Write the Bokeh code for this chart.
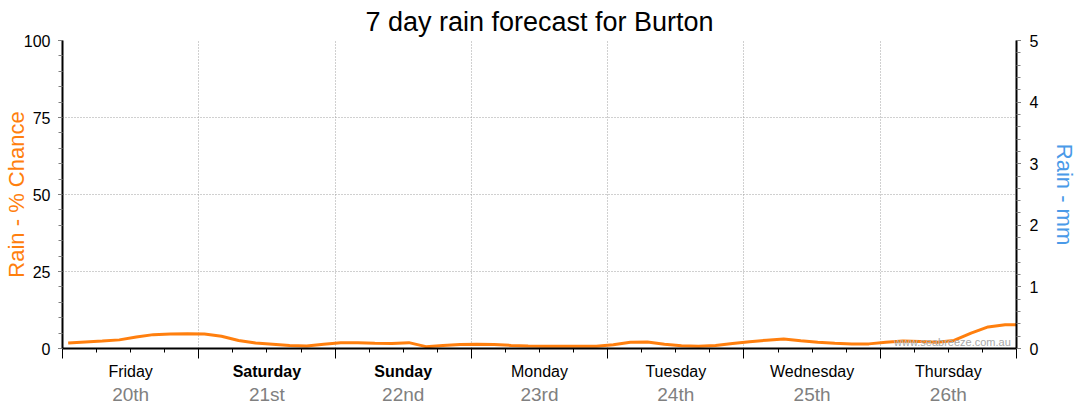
from bokeh.plotting import figure
from bokeh.layouts import column
from bokeh.models import Range1d, LinearAxis, FixedTicker, ColumnDataSource, Label
from bokeh.core.properties import value
from bokeh.embed import file_html
from bokeh.resources import INLINE

title_text = "7 day rain forecast for Burton"
hours = [1, 4, 7, 10, 13, 16, 19, 22, 25, 28, 31, 34, 37, 40, 43, 46, 49, 52, 55, 58,
         61, 64, 67, 70, 73, 76, 79, 82, 85, 88, 91, 94, 97, 100, 103, 106, 109, 112, 115, 118,
         121, 124, 127, 130, 133, 136, 139, 142, 145, 148, 151, 154, 157, 160, 163, 166, 168]
chance = [1.8, 2.1, 2.4, 2.8, 3.7, 4.5, 4.7, 4.8, 4.7, 4.0, 2.6, 1.8, 1.4, 1.0, 0.8, 1.4, 1.9, 1.9, 1.7, 1.6,
          1.9, 0.6, 1.0, 1.3, 1.4, 1.3, 1.0, 0.8, 0.7, 0.7, 0.7, 0.7, 1.2, 2.0, 2.1, 1.4, 0.9, 0.7, 1.0, 1.6,
          2.2, 2.7, 3.1, 2.5, 2.0, 1.7, 1.5, 1.5, 2.0, 2.4, 2.3, 2.0, 2.6, 5.0, 7.0, 7.7, 7.7]
day_names = ["Friday", "Saturday", "Sunday", "Monday", "Tuesday", "Wednesday", "Thursday"]
day_dates = ["20th", "21st", "22nd", "23rd", "24th", "25th", "26th"]
weekend = [False, True, True, False, False, False, False]
chance_ticks = [0, 25, 50, 75, 100]
mm_ticks = [0, 1, 2, 3, 4, 5]
watermark = "www.seabreeze.com.au"

ORANGE = "#ff7f0e"
BLUE = "#4a9ae8"
FONT = "Liberation Sans"

n_days = len(day_names)
span = 24 * n_days
x_range = Range1d(0, span)

p = figure(width=1080, height=360, x_range=x_range, y_range=Range1d(0, 100),
           output_backend="svg", toolbar_location=None,
           min_border_left=62, min_border_right=62, min_border_top=40, min_border_bottom=12,
           title=title_text)
p.outline_line_color = None
p.background_fill_color = "white"
p.border_fill_color = "white"

p.title.text_font = FONT
p.title.text_font_size = "27px"
p.title.text_font_style = "normal"
p.title.align = "center"
p.title.text_color = "black"
p.title.standoff = 7
p.title.offset = -4

# bottom axis (ticks only; day labels drawn below)
day_ticks = [24 * i for i in range(n_days + 1)]
xa = p.xaxis[0]
xa.ticker = FixedTicker(ticks=day_ticks, minor_ticks=[6 * i for i in range(4 * n_days + 1)])
xa.major_label_overrides = {t: "" for t in day_ticks}
xa.major_label_standoff = 0
xa.major_tick_out = 10
xa.major_tick_in = 0
xa.minor_tick_out = 4
xa.minor_tick_in = 0
xa.axis_line_width = 2
xa.axis_line_color = "black"
xa.major_tick_line_color = "black"
xa.minor_tick_line_color = "black"

# left axis
ya = p.yaxis[0]
ya.ticker = FixedTicker(ticks=chance_ticks, minor_ticks=[5 * i for i in range(21)])
ya.axis_label = "Rain - % Chance"
ya.axis_label_text_color = ORANGE
ya.axis_label_text_font = FONT
ya.axis_label_text_font_size = "22px"
ya.axis_label_text_font_style = "normal"
ya.axis_label_standoff = -8
ya.major_label_text_font = FONT
ya.major_label_text_font_size = "16px"
ya.major_label_text_color = "black"
ya.major_label_standoff = 8
ya.major_tick_out = 4
ya.major_tick_in = 0
ya.minor_tick_out = 4
ya.minor_tick_in = 0
ya.minor_tick_line_color = "#808080"
ya.major_tick_line_color = "black"
ya.axis_line_width = 2
ya.axis_line_color = "black"

# right axis
p.extra_y_ranges = {"mm": Range1d(0, 5)}
ra = LinearAxis(y_range_name="mm",
                ticker=FixedTicker(ticks=mm_ticks, minor_ticks=[0.2 * i for i in range(26)]))
ra.axis_label = "Rain - mm"
ra.axis_label_text_color = BLUE
ra.axis_label_text_font = FONT
ra.axis_label_text_font_size = "22px"
ra.axis_label_text_font_style = "normal"
ra.axis_label_standoff = 11
ra.major_label_text_font = FONT
ra.major_label_text_font_size = "16px"
ra.major_label_text_color = "black"
ra.major_label_standoff = 9
ra.major_tick_out = 4
ra.major_tick_in = 0
ra.minor_tick_out = 4
ra.minor_tick_in = 0
ra.minor_tick_line_color = "#808080"
ra.major_tick_line_color = "black"
ra.axis_line_width = 2
ra.axis_line_color = "black"
p.add_layout(ra, "right")

# grids
p.xgrid.ticker = FixedTicker(ticks=day_ticks[1:-1])
p.ygrid.ticker = FixedTicker(ticks=chance_ticks[1:-1])
for g in (p.xgrid[0], p.ygrid[0]):
    g.grid_line_color = "#a0a0a0"
    g.grid_line_dash = "1 2"
    g.grid_line_width = 1

# data line
p.line(hours, chance, line_color=ORANGE, line_width=3)

# watermark
p.add_layout(Label(x=span - 1, y=2, text=watermark, text_align="right", text_baseline="alphabetic",
                   text_font=FONT, text_font_size="11px", text_color="#a8a8a8"))

# day labels strip, sharing the x range
q = figure(width=1080, height=54, x_range=x_range, y_range=Range1d(0, 54),
           output_backend="svg", toolbar_location=None,
           min_border_left=62, min_border_right=62, min_border_top=0, min_border_bottom=0)
q.axis.visible = False
q.grid.visible = False
q.outline_line_color = None
q.background_fill_color = "white"
q.border_fill_color = "white"

mids = [24 * i + 12 for i in range(n_days)]
for bold in (False, True):
    idx = [i for i in range(n_days) if weekend[i] == bold]
    src = ColumnDataSource(dict(x=[mids[i] for i in idx],
                                name=[day_names[i] for i in idx],
                                date=[day_dates[i] for i in idx],
                                y1=[43] * len(idx), y2=[20] * len(idx)))
    q.text(x="x", y="y1", text="name", source=src, text_align=value("center"),
           text_baseline=value("alphabetic"), text_font=value(FONT),
           text_font_size=value("16px"),
           text_font_style=value("bold" if bold else "normal"),
           text_color="black")
    q.text(x="x", y="y2", text="date", source=src, text_align=value("center"),
           text_baseline=value("alphabetic"), text_font=value(FONT),
           text_font_size=value("19px"), text_color="#808080")

layout = column(p, q, spacing=0)
open("out.html", "w").write(file_html(layout, INLINE))
